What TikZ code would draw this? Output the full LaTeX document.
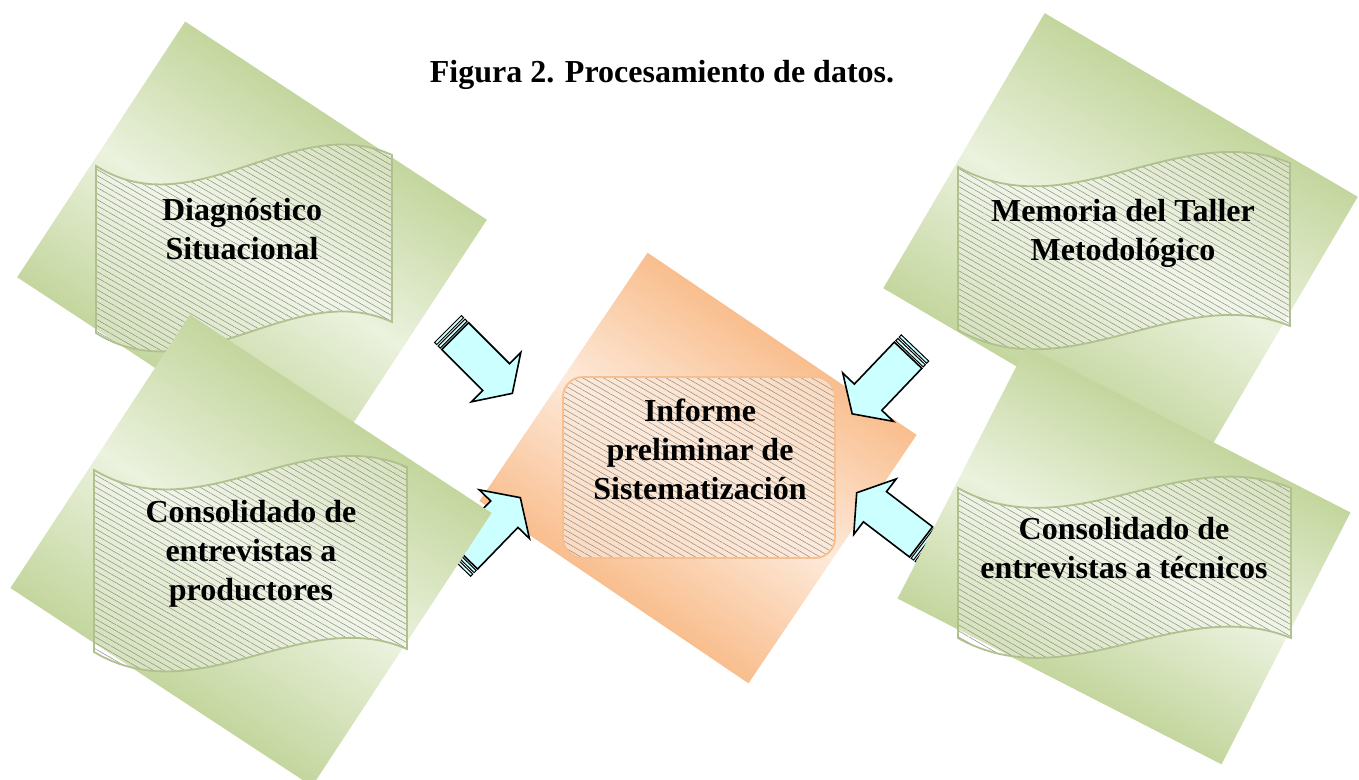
\documentclass[tikz,border=0pt]{standalone}
\usepackage{fontspec}
\setmainfont{Liberation Serif}
\usetikzlibrary{calc,patterns.meta}
\definecolor{cardgreen}{RGB}{196,214,158}
\definecolor{cardgreenlight}{RGB}{235,242,222}
\definecolor{cardorange}{RGB}{249,190,142}
\definecolor{cardorangelight}{RGB}{253,234,218}
\definecolor{arrowcyan}{RGB}{204,255,255}
\tikzset{
  card-green/.style={top color=cardgreen, bottom color=cardgreen, middle color=cardgreenlight},
  card-orange/.style={top color=cardorange, bottom color=cardorange, middle color=cardorangelight},
  hatch/.style={
    pattern={Lines[angle=-30, distance=2.6pt, line width=0.25pt]},
    pattern color=black!45
  },
  wave-box/.style={
    hatch,
    preaction={fill=white, fill opacity=0.3},
    draw=cardgreen!90!black,
    line width=0.9pt
  },
  inner-box/.style={
    hatch,
    preaction={fill=cardorangelight, fill opacity=0.65},
    draw=cardorange,
    line width=0.9pt,
    rounded corners=10pt
  },
  arrow-body/.style={fill=arrowcyan, draw=black, line width=0.8pt},
  arrow-stripe/.style={fill=arrowcyan, draw=black, line width=0.5pt},
  label-text/.style={font=\fontsize{16}{19.5}\selectfont\bfseries, align=center, inner sep=0pt}
}
\newcommand{\cardback}[5]{% center, width, height, angle, style
  \begin{scope}[transform canvas={shift={#1}, rotate=#4}]
    \shade[#5] (-#2/2,-#3/2) rectangle (#2/2,#3/2);
  \end{scope}
}
\newcommand{\wavebox}[5]{% left, top, right, height, rise
  \draw[wave-box] (#1,#2)
    .. controls ({#1+(#3-#1)/3},{#2+62}) and ({#1+2*(#3-#1)/3},{#2-#5-45}) .. (#3,{#2-#5})
    -- (#3,{#2-#5+#4})
    .. controls ({#1+2*(#3-#1)/3},{#2-#5-45+#4}) and ({#1+(#3-#1)/3},{#2+62+#4}) .. (#1,{#2+#4})
    -- cycle;
}
\newcommand{\stripedarrow}[2]{% tail, tip
  \path let \p1=($(#2)-(#1)$) in \pgfextra{\pgfmathparse{atan2(\y1,\x1)}\xdef\arrowangle{\pgfmathresult}};
  \begin{scope}[shift={(#1)}, rotate=\arrowangle]
    \draw[arrow-body] (10,-19) -- (68,-19) -- (68,-35) -- (91,0) -- (68,35) -- (68,19) -- (10,19) -- cycle;
    \draw[arrow-stripe] (0,-19) rectangle (3,19);
    \draw[arrow-stripe] (5,-19) rectangle (8,19);
  \end{scope}
}

\begin{document}
\begin{tikzpicture}[x=0.5pt, y=-0.5pt]
  \useasboundingbox (0,0) rectangle (1359,780);
  % Back cards
  \cardback{(252,248.5)}{361}{306}{-33.3}{card-green}
  \wavebox{96}{166}{392}{167}{11}
  \node[label-text] (diag) at (242,229.5) {Diagnóstico\\Situacional};
  \cardback{(1120.5,242.5)}{363}{319}{-30.4}{card-green}
  \wavebox{958}{167}{1290}{163}{4}
  \node[label-text] (memo) at (1123,233.8) {Memoria del Taller\\Metodológico};
  % Center card
  \cardback{(698,468)}{325}{300}{-34.1}{card-orange}
  \draw[inner-box] (563,377) rectangle (835,558);
  \node[label-text] (informe) at (700,449.6) {Informe\\preliminar de\\Sistematización};
  % Arrows into the center
  \coordinate (diag-tail) at (448,329);
  \coordinate (diag-tip) at (512,393);
  \coordinate (memo-tail) at (915,348);
  \coordinate (memo-tip) at (853,413);
  \coordinate (prod-tail) at (457,563);
  \coordinate (prod-tip) at (520,498);
  \coordinate (tecn-tail) at (929,548);
  \coordinate (tecn-tip) at (857,493);
  \stripedarrow{diag-tail}{diag-tip}
  \stripedarrow{memo-tail}{memo-tip}
  \stripedarrow{prod-tail}{prod-tip}
  \stripedarrow{tecn-tail}{tecn-tip}
  % Front cards
  \cardback{(251,550.5)}{361}{327}{-33.3}{card-green}
  \wavebox{94}{470}{407}{182}{3}
  \node[label-text] (prod) at (251,554) {Consolidado de\\entrevistas a\\productores};
  \cardback{(1124,555.5)}{364}{283}{-27.1}{card-green}
  \wavebox{958}{488}{1291}{150}{0}
  \node[label-text] (tecn) at (1124,548.3) {Consolidado de\\entrevistas a técnicos};
  % Title
  \node[label-text, anchor=base] (title) at (662,83) {Figura 2. Procesamiento de datos.};
\end{tikzpicture}
\end{document}
